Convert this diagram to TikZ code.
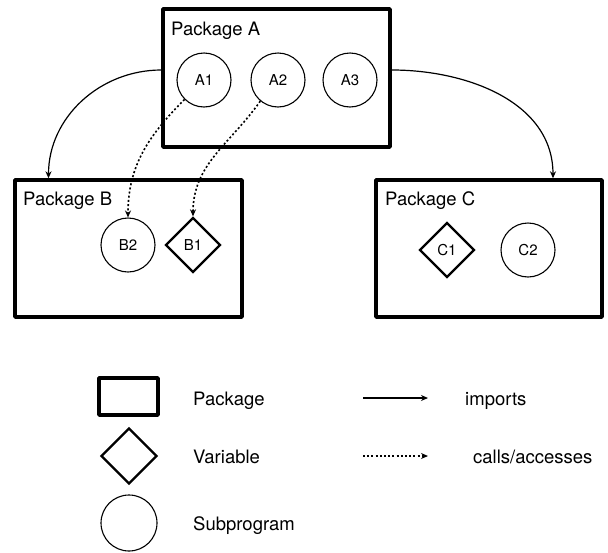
\documentclass[tikz,border=0pt]{standalone}
\usepackage{fontspec}
\setmainfont{TeX Gyre Heros}
\usetikzlibrary{shapes.geometric, arrows, arrows.meta, positioning, fit}
\tikzstyle{package} = [rectangle, draw=black, line width=3.4pt, line join=round, inner sep=0pt]
\tikzstyle{subprogram} = [circle, draw=black, line width=1.1pt, minimum size=54pt, inner sep=0pt, font=\fontsize{15}{18}\selectfont]
\tikzstyle{varbox} = [diamond, draw=black, line width=2.3pt, minimum width=55pt, minimum height=55pt, inner sep=0pt, font=\fontsize{15}{18}\selectfont]
\tikzstyle{pkgtitle} = [anchor=base west, inner sep=0pt, font=\fontsize{18.5}{22}\selectfont]
\tikzstyle{arrow} = [line width=1.2pt,->,>={Stealth[length=7pt,width=6pt]}]
\tikzstyle{calls} = [line width=1.6pt,dash pattern=on 2pt off 2.2pt,->,>={Stealth[length=7pt,width=6pt]}]

\begin{document}
\begin{tikzpicture}[x=1pt,y=-1pt]
    \useasboundingbox (0,0) rectangle (608,552);
    \node (pkga) [package, minimum width=227pt, minimum height=138pt] at (276.5,78) {};
    \node (pkgb) [package, minimum width=227pt, minimum height=137pt] at (128.5,248.5) {};
    \node (pkgc) [package, minimum width=226pt, minimum height=137pt] at (489,248.5) {};
    \node (labela) [pkgtitle] at (171,35) {Package A};
    \node (labelb) [pkgtitle] at (23,205) {Package B};
    \node (labelc) [pkgtitle] at (385,205) {Package C};
    \node (a1) [subprogram] at (204,80) {A1};
    \node (a2) [subprogram, right of=a1, node distance=74pt] {A2};
    \node (a3) [subprogram, right of=a2, node distance=72pt] {A3};
    \node (b2) [subprogram] at (128,245) {B2};
    \node (b1) [varbox, right of=b2, node distance=65pt] {B1};
    \node (c1) [varbox] at (447,250) {C1};
    \node (c2) [subprogram, right of=c1, node distance=81pt] {C2};
    \draw [arrow] ([yshift=8pt]pkga.west) to[out=180,in=90] ([xshift=-80pt]pkgb.north);
    \draw [arrow] ([yshift=8pt]pkga.east) to[out=0,in=90] ([xshift=64pt]pkgc.north);
    \draw [calls] (a1.225) to[out=225,in=90] (b2.north);
    \draw [calls] (a2.230) to[out=235,in=90] (b1.north);

    \node (keypkg) [package, minimum width=59pt, minimum height=37pt] at (128.5,396.5) {};
    \node (keyvar) [varbox, minimum width=56pt, minimum height=56pt] at (129,456) {};
    \node (keysub) [subprogram, minimum size=56pt] at (129,523) {};
    \node (textpkg) [pkgtitle] at (193,405) {Package};
    \node (textvar) [pkgtitle] at (193,463) {Variable};
    \node (textsub) [pkgtitle] at (193,530) {Subprogram};
    \coordinate (imp1) at (363,398);
    \coordinate (imp2) at (428,398);
    \coordinate (cal1) at (363,456);
    \coordinate (cal2) at (428,456);
    \draw [arrow] (imp1) -- (imp2);
    \draw [calls, line width=1.2pt] (cal1) -- (cal2);
    \node (textimp) [pkgtitle] at (465,405) {imports};
    \node (textcal) [pkgtitle] at (473,463) {calls/accesses};
\end{tikzpicture}
\end{document}
